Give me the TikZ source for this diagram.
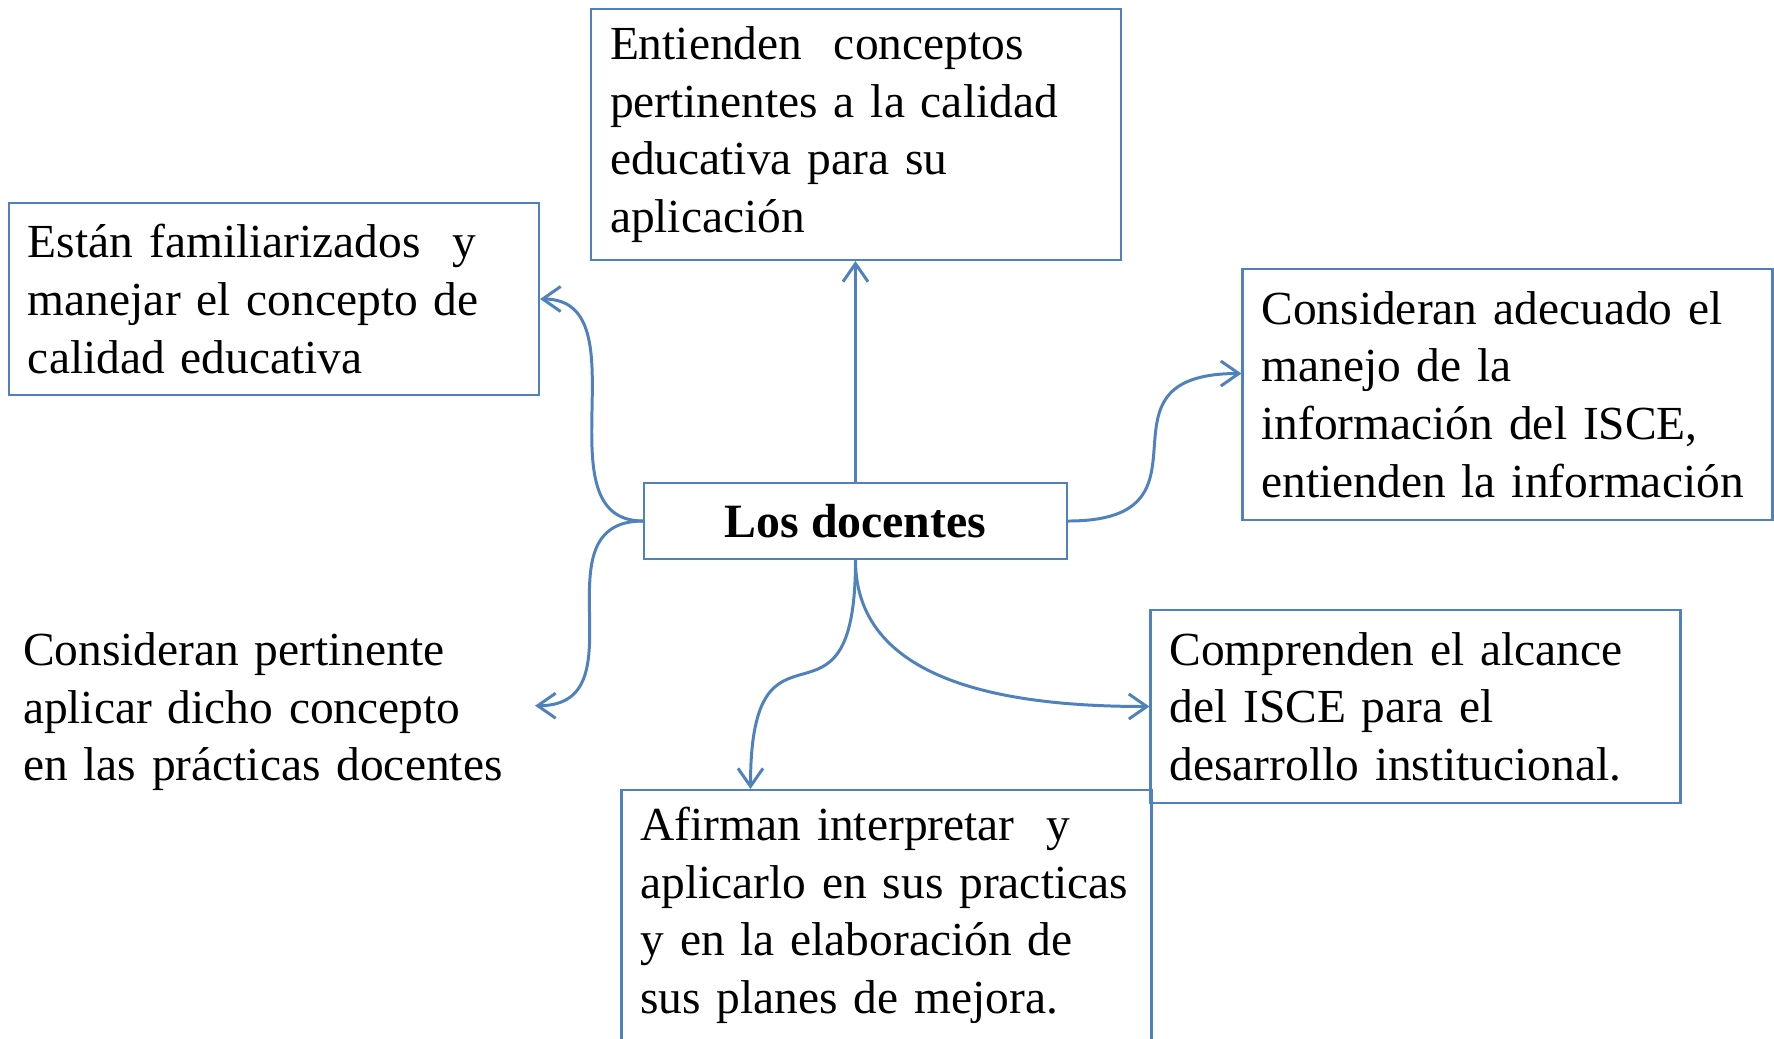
\documentclass[tikz,border=0pt]{standalone}
\usepackage{fontspec}
\setmainfont{Liberation Serif}
\usetikzlibrary{arrows.meta}
\definecolor{boxblue}{RGB}{79,129,189}

\begin{document}
\begin{tikzpicture}[
  font=\fontsize{13.5}{16.4}\selectfont,
  caja/.style={draw=boxblue, line width=0.6pt, minimum height=#1,
    text width=4.92cm, inner xsep=1.9mm, inner ysep=0pt, align=left},
  link/.style={draw=boxblue, line width=0.85pt,
    -{Straight Barb[length=1.8mm,width=2.5mm]}}
  ]
  \useasboundingbox (0,0) rectangle (17.74,-10.38);
  \node[draw=boxblue, line width=0.6pt, minimum width=4.23cm, minimum height=0.76cm,
    font=\fontsize{13.6}{16.4}\selectfont\bfseries] (docentes) at (8.555,-5.21) {Los docentes};
  \node[caja=2.51cm] (entienden) at (8.56,-1.345)
    {Entienden\ \ conceptos\\ pertinentes a la calidad\\ educativa para su\\ aplicación};
  \node[caja=1.92cm] (familiar) at (2.74,-2.99)
    {Están familiarizados\ \ y\\ manejar el concepto de\\ calidad educativa};
  \node[caja=2.51cm] (manejo) at (15.075,-3.945)
    {Consideran adecuado el\\ manejo de la\\ información del ISCE,\\ entienden la información};
  \node[caja=1.93cm, draw=none] (aplicar) at (2.69,-7.117)
    {Consideran pertinente\\ aplicar dicho concepto\\ en las prácticas docentes};
  \node[caja=1.93cm] (alcance) at (14.155,-7.065)
    {Comprenden el alcance\\ del ISCE para el\\ desarrollo institucional.};
  \node[caja=2.51cm] (mejora) at (8.865,-9.155)
    {Afirman interpretar\ \ y\\ aplicarlo en sus practicas\\ y en la elaboración de\\ sus planes de mejora.};

  \draw[link] (docentes.north) -- (docentes.north |- entienden.south);
  \draw[link] (docentes.west) to[out=180,in=0,looseness=1.1] (familiar.east);
  \draw[link] (docentes.west) to[out=180,in=0,looseness=1.3] ([yshift=0.6mm]aplicar.east);
  \draw[link] (docentes.east) to[out=0,in=180,looseness=1.8] ([yshift=2.1mm]manejo.west);
  \draw[link] (docentes.south) to[out=-90,in=90,looseness=2] ([xshift=-13.6mm]mejora.north);
  \draw[link] (docentes.south) to[out=-90,in=180] (alcance.west);
\end{tikzpicture}
\end{document}
